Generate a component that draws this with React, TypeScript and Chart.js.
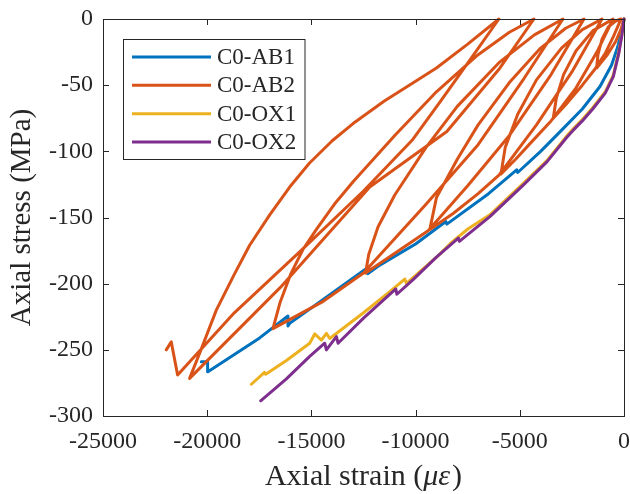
import React, { useEffect, useRef } from 'react';
import { Chart, registerables } from 'chart.js';

Chart.register(...registerables);

// ---- axis ticks ----
const xTickValues = [-25000, -20000, -15000, -10000, -5000, 0];
const xTickLabels = ['-25000', '-20000', '-15000', '-10000', '-5000', '0'];
const yTickValues = [0, -50, -100, -150, -200, -250, -300];
const yTickLabels = ['0', '-50', '-100', '-150', '-200', '-250', '-300'];

// ---- series ----
const seriesNames = ['C0-AB1', 'C0-AB2', 'C0-OX1', 'C0-OX2'];
const seriesColors = ['#0072BD', '#D95319', '#EDB120', '#7E2F8E'];

const ab1Strain = [0, -100, -300, -600, -1153, -2000, -2992, -4000, -5100, -5150, -6500, -8500, -8550, -10000, -11719, -12300, -12358, -14000, -16042, -16124, -16124, -17483, -19966, -19980, -20283];
const ab1Stress = [0, -8, -21, -35, -51, -68, -84, -100, -116, -114, -132, -155, -153, -170, -186, -192.5, -188.5, -207, -230, -232, -224.4, -241, -266.6, -259, -259];

const ab2Strain = [
  0, -150, -400, -800, -1313,
  -1250, -1050, -750, -400, -144,
  -500, -900, -1400, -2000, -2700, -3395,
  -3250, -2900, -2300, -1500, -528,
  -1300, -2300, -3500, -4500, -5200, -5900,
  -5700, -5100, -4200, -3000, -2000, -1057,
  -2500, -4200, -6000, -7000, -8200, -9318,
  -9000, -8000, -7000, -5500, -4000, -2800, -1921,
  -3500, -5500, -7500, -9400, -10800, -12400,
  -12250, -11800, -11000, -9500, -8000, -6000, -4300, -2930,
  -4800, -7000, -9500, -12500, -14500, -16844,
  -16500, -16000, -15400, -14760, -13900, -13000, -11000, -9000, -7000, -5500, -4323,
  -6000, -8500, -12200, -16500, -20845,
  -20300, -19563, -18700, -17963, -17000, -16042, -15100, -14000, -13000, -11500, -10000, -9000, -7500, -6004,
  -7397, -8800, -10134, -12500, -15500, -18700, -21420,
  -21725, -21965,
];
const ab2Stress = [
  0, -8, -17, -27, -37,
  -27, -15, -6, -1.5, 0,
  -13, -26, -38, -50, -63, -75,
  -60, -42, -24, -9, 0,
  -25, -52, -77, -94, -106, -117,
  -97, -72, -46, -22, -8, 0,
  -40, -80, -118, -132, -147, -159,
  -135, -106, -80, -48, -22, -7, 0,
  -42, -88, -126, -160, -175, -192,
  -178, -157, -133, -97, -66, -33, -12, 0,
  -45, -95, -140, -192, -214, -234,
  -214, -193, -174, -159, -140, -123, -88, -55, -27, -10, 0,
  -38, -85, -127, -203, -271.6,
  -250, -220, -193, -171, -148, -127, -109, -92, -79, -62, -47, -37, -19, 0,
  -31, -62, -91, -130, -175, -222, -269,
  -244, -250,
];

const ox1Strain = [0, -100, -250, -514, -900, -1500, -2000, -2434, -2752, -3700, -4755, -6436, -7478, -8356, -8996, -10437, -10519, -11239, -12500, -14121, -14280, -14520, -14841, -15082, -16200, -17100, -17200, -17250, -17882];
const ox1Stress = [0, -11.5, -25, -42.5, -55, -67, -76, -83, -88.5, -107, -123, -148, -158.5, -170, -180, -199.8, -196.5, -206, -222, -241.4, -237.6, -242.6, -238, -245, -258, -267.5, -268.5, -267, -276];

const ox2Strain = [0, -100, -250, -514, -900, -1500, -2000, -2434, -2752, -3700, -4835, -6436, -7900, -7950, -9000, -10120, -10900, -10950, -12500, -13721, -13800, -14280, -14361, -15082, -16200, -17435];
const ox2Stress = [0, -12, -26, -43.6, -56, -68, -77, -84, -89.5, -108, -125.5, -149.4, -168, -165.5, -180, -197, -208, -204, -226, -245, -240, -250, -245, -255, -272, -288.5];

const AXIS_COLOR = '#262626';
const SERIF = '"Liberation Serif", "Times New Roman", serif';

export default function App() {
  const canvasRef = useRef<HTMLCanvasElement | null>(null);

  useEffect(() => {
    const canvas = canvasRef.current;
    if (!canvas) return;

    const toPoints = (xs: number[], ys: number[]) => xs.map((x, i) => ({ x, y: ys[i] }));
    const strains = [ab1Strain, ab2Strain, ox1Strain, ox2Strain];
    const stresses = [ab1Stress, ab2Stress, ox1Stress, ox2Stress];

    const datasets = seriesNames.map((name, i) => ({
      label: name,
      data: toPoints(strains[i], stresses[i]),
      borderColor: seriesColors[i],
      backgroundColor: seriesColors[i],
      borderWidth: 3,
      pointRadius: 0,
      showLine: true,
      tension: 0,
      fill: false,
      clip: 6,
      order: seriesNames.length - i,
      borderJoinStyle: 'round' as const,
      borderCapStyle: 'round' as const,
    }));

    const framePlugin = {
      id: 'frame',
      afterDraw(chart: any) {
        const { ctx, chartArea, scales } = chart;
        const { left, right, top, bottom } = chartArea;
        ctx.save();
        // box
        ctx.strokeStyle = AXIS_COLOR;
        ctx.lineWidth = 1;
        ctx.strokeRect(Math.round(left) + 0.5, Math.round(top) + 0.5, Math.round(right - left), Math.round(bottom - top));
        // inside ticks
        const tl = 6;
        ctx.beginPath();
        xTickValues.forEach((v) => {
          const px = Math.round(scales.x.getPixelForValue(v)) + 0.5;
          ctx.moveTo(px, bottom);
          ctx.lineTo(px, bottom - tl);
          ctx.moveTo(px, top);
          ctx.lineTo(px, top + tl);
        });
        yTickValues.forEach((v) => {
          const py = Math.round(scales.y.getPixelForValue(v)) + 0.5;
          ctx.moveTo(left, py);
          ctx.lineTo(left + tl, py);
          ctx.moveTo(right, py);
          ctx.lineTo(right - tl, py);
        });
        ctx.stroke();

        // x axis title with italic symbols
        ctx.fillStyle = AXIS_COLOR;
        ctx.textBaseline = 'alphabetic';
        const fs = 30;
        const partA = 'Axial strain (';
        const partB = 'με';
        const partC = ')';
        ctx.font = `${fs}px ${SERIF}`;
        const wA = ctx.measureText(partA).width;
        const wC = ctx.measureText(partC).width;
        ctx.font = `italic ${fs}px ${SERIF}`;
        const wB = ctx.measureText(partB).width;
        const total = wA + wB + wC + 2;
        const cx = (left + right) / 2;
        let x0 = cx - total / 2;
        const by = 485;
        ctx.textAlign = 'left';
        ctx.font = `${fs}px ${SERIF}`;
        ctx.fillText(partA, x0, by);
        x0 += wA;
        ctx.font = `italic ${fs}px ${SERIF}`;
        ctx.fillText(partB, x0, by);
        x0 += wB + 2;
        ctx.font = `${fs}px ${SERIF}`;
        ctx.fillText(partC, x0, by);

        // legend
        const lx = 123.5, ly = 39.5, lw = 181.5, lh = 120;
        ctx.fillStyle = '#ffffff';
        ctx.fillRect(lx, ly, lw, lh);
        ctx.strokeStyle = AXIS_COLOR;
        ctx.lineWidth = 1;
        ctx.strokeRect(lx, ly, lw, lh);
        const rows = [57, 85.3, 113.7, 142];
        ctx.font = `23px ${SERIF}`;
        ctx.textBaseline = 'middle';
        seriesNames.forEach((name, i) => {
          ctx.strokeStyle = seriesColors[i];
          ctx.lineWidth = 3;
          ctx.beginPath();
          ctx.moveTo(132, rows[i]);
          ctx.lineTo(211, rows[i]);
          ctx.stroke();
          ctx.fillStyle = AXIS_COLOR;
          ctx.fillText(name, 217, rows[i] + 1);
        });
        ctx.restore();
      },
    };

    const chart = new Chart(canvas, {
      type: 'scatter',
      data: { datasets },
      options: {
        responsive: false,
        animation: false,
        devicePixelRatio: 1,
        layout: { padding: { top: 19, right: 6, left: 0, bottom: 0 } },
        plugins: {
          legend: { display: false },
          tooltip: { enabled: false },
        },
        scales: {
          x: {
            type: 'linear',
            min: -25000,
            max: 0,
            afterBuildTicks: (scale: any) => {
              scale.ticks = xTickValues.map((v) => ({ value: v }));
            },
            afterFit: (scale: any) => {
              scale.height = 78;
              scale.paddingLeft = 0;
              scale.paddingRight = 0;
              scale.paddingTop = 0;
              scale.paddingBottom = 0;
            },
            ticks: {
              autoSkip: false,
              maxRotation: 0,
              minRotation: 0,
              padding: 11,
              color: AXIS_COLOR,
              font: { family: SERIF, size: 24 },
              callback: (v: any) => {
                const idx = xTickValues.indexOf(Number(v));
                return idx >= 0 ? xTickLabels[idx] : '';
              },
            },
            grid: { display: false, drawTicks: false },
            border: { display: false },
            title: { display: false },
          },
          y: {
            type: 'linear',
            min: -300,
            max: 0,
            afterBuildTicks: (scale: any) => {
              scale.ticks = yTickValues.map((v) => ({ value: v }));
            },
            afterFit: (scale: any) => {
              scale.width = 103;
              scale.paddingLeft = 0;
              scale.paddingRight = 0;
              scale.paddingTop = 0;
              scale.paddingBottom = 0;
            },
            ticks: {
              autoSkip: false,
              padding: 10,
              color: AXIS_COLOR,
              font: { family: SERIF, size: 24 },
              callback: (v: any) => {
                const idx = yTickValues.indexOf(Number(v));
                return idx >= 0 ? yTickLabels[idx] : '';
              },
            },
            grid: { display: false, drawTicks: false },
            border: { display: false },
            title: {
              display: true,
              text: 'Axial stress (MPa)',
              color: AXIS_COLOR,
              font: { family: SERIF, size: 29 },
              padding: { top: 5, bottom: 0 },
            },
          },
        },
      },
      plugins: [framePlugin],
    });

    return () => {
      chart.destroy();
    };
  }, []);

  return (
    <div style={{ position: 'fixed', left: 0, top: 0, width: 630, height: 494, background: '#ffffff' }}>
      <canvas ref={canvasRef} width={630} height={494} style={{ display: 'block' }} />
    </div>
  );
}
